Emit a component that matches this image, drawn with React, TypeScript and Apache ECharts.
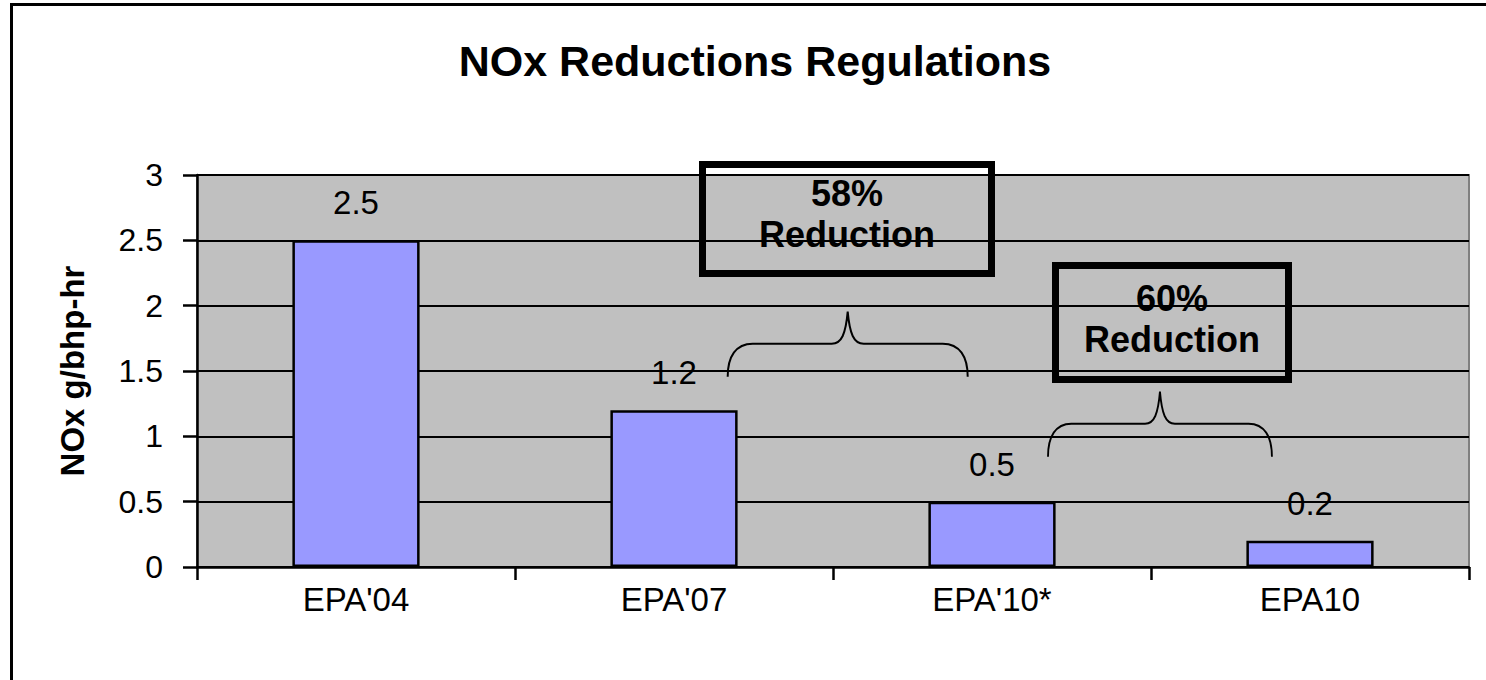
import React, { useEffect, useRef } from "react";
import * as echarts from "echarts";

const categories = ["EPA'04", "EPA'07", "EPA'10*", "EPA10"];
const noxValues = [2.5, 1.2, 0.5, 0.2];
const yTicks = { min: 0, max: 3, interval: 0.5 };
const titleText = "NOx Reductions Regulations";
const yAxisName = "NOx g/bhp-hr";
const annotations = [
  { pct: "58%", word: "Reduction" },
  { pct: "60%", word: "Reduction" },
];

const BRACE =
  "M0,65 C0,45 8,32 25,32 L104,32 C114,32 118,22 120,0 C122,22 126,32 136,32 L215,32 C232,32 240,45 240,65";
echarts.graphic.registerShape("brace", echarts.graphic.extendPath(BRACE, {}) as any);

const FONT = '"Liberation Sans", Arial, sans-serif';

export default function App() {
  const ref = useRef<HTMLDivElement>(null);
  useEffect(() => {
    if (!ref.current) return;
    const chart = echarts.init(ref.current, undefined, { renderer: "svg" });
    const boldText = (text: string, x: number, y: number) => ({
      type: "text",
      z: -1,
      x,
      y,
      style: {
        text,
        fontFamily: FONT,
        fontWeight: "bold",
        fontSize: 36,
        fill: "#000",
        align: "center",
        verticalAlign: "middle",
      },
    });
    chart.setOption({
      animation: false,
      backgroundColor: "#fff",
      textStyle: { fontFamily: FONT },
      grid: {
        left: 197,
        right: 17,
        top: 175,
        bottom: 113,
        show: true,
        z: -5,
        backgroundColor: "#C0C0C0",
        borderColor: "#808080",
        borderWidth: 2,
      },
      xAxis: {
        type: "category",
        data: categories,
        boundaryGap: true,
        axisLine: { show: true, lineStyle: { color: "#000", width: 2.5 } },
        axisTick: { show: true, alignWithLabel: false, length: 13, lineStyle: { color: "#000", width: 2.5 } },
        axisLabel: { color: "#000", fontSize: 33, fontFamily: FONT, margin: 16 },
        splitLine: { show: false },
      },
      yAxis: {
        type: "value",
        min: yTicks.min,
        max: yTicks.max,
        interval: yTicks.interval,
        name: yAxisName,
        nameLocation: "middle",
        nameRotate: 90,
        nameGap: 108,
        nameTextStyle: { color: "#000", fontSize: 33, fontWeight: "bold", fontFamily: FONT },
        axisLine: { show: true, lineStyle: { color: "#000", width: 2.5 } },
        axisTick: { show: true, length: 14, lineStyle: { color: "#000", width: 2.5 } },
        axisLabel: { color: "#000", fontSize: 32, fontFamily: FONT, margin: 34 },
        splitLine: { show: true, lineStyle: { color: "#000", width: 2 } },
      },
      series: [
        {
          type: "bar",
          data: noxValues,
          barWidth: "40%",
          itemStyle: { color: "#9999FF", borderColor: "#000", borderWidth: 2.5 },
          label: {
            show: true,
            position: "top",
            distance: 21,
            color: "#000",
            fontSize: 33,
            fontFamily: FONT,
          },
        },
      ],
      graphic: [
        {
          type: "text",
          x: 755,
          y: 61,
          style: {
            text: titleText,
            fontFamily: FONT,
            fontWeight: "bold",
            fontSize: 43,
            fill: "#000",
            align: "center",
            verticalAlign: "middle",
          },
        },
        { type: "line", shape: { x1: 11.5, y1: 3, x2: 11.5, y2: 680 }, style: { stroke: "#000", lineWidth: 3 } },
        { type: "line", shape: { x1: 10, y1: 4.5, x2: 1486, y2: 4.5 }, style: { stroke: "#000", lineWidth: 3 } },
        boldText(annotations[0].pct, 847, 193),
        boldText(annotations[0].word, 847, 234),
        boldText(annotations[1].pct, 1172, 298),
        boldText(annotations[1].word, 1172, 339),
        {
          type: "rect",
          z: 10,
          shape: { x: 702.5, y: 164.5, width: 289, height: 109 },
          style: { fill: "none", stroke: "#000", lineWidth: 7 },
        },
        {
          type: "rect",
          z: 10,
          shape: { x: 1055.5, y: 265.5, width: 233, height: 114 },
          style: { fill: "none", stroke: "#000", lineWidth: 7 },
        },
        {
          type: "brace",
          z: 10,
          x: 727.7,
          y: 311.7,
          scaleX: 1,
          scaleY: 1,
          style: { fill: "none", stroke: "#000", lineWidth: 2 },
        },
        {
          type: "brace",
          z: 10,
          x: 1048,
          y: 391.7,
          scaleX: 224 / 240,
          scaleY: 1,
          style: { fill: "none", stroke: "#000", lineWidth: 2 },
        },
      ],
    });
    return () => chart.dispose();
  }, []);
  return (
    <div
      ref={ref}
      style={{ position: "fixed", left: 0, top: 0, width: 1486, height: 680 }}
    />
  );
}
